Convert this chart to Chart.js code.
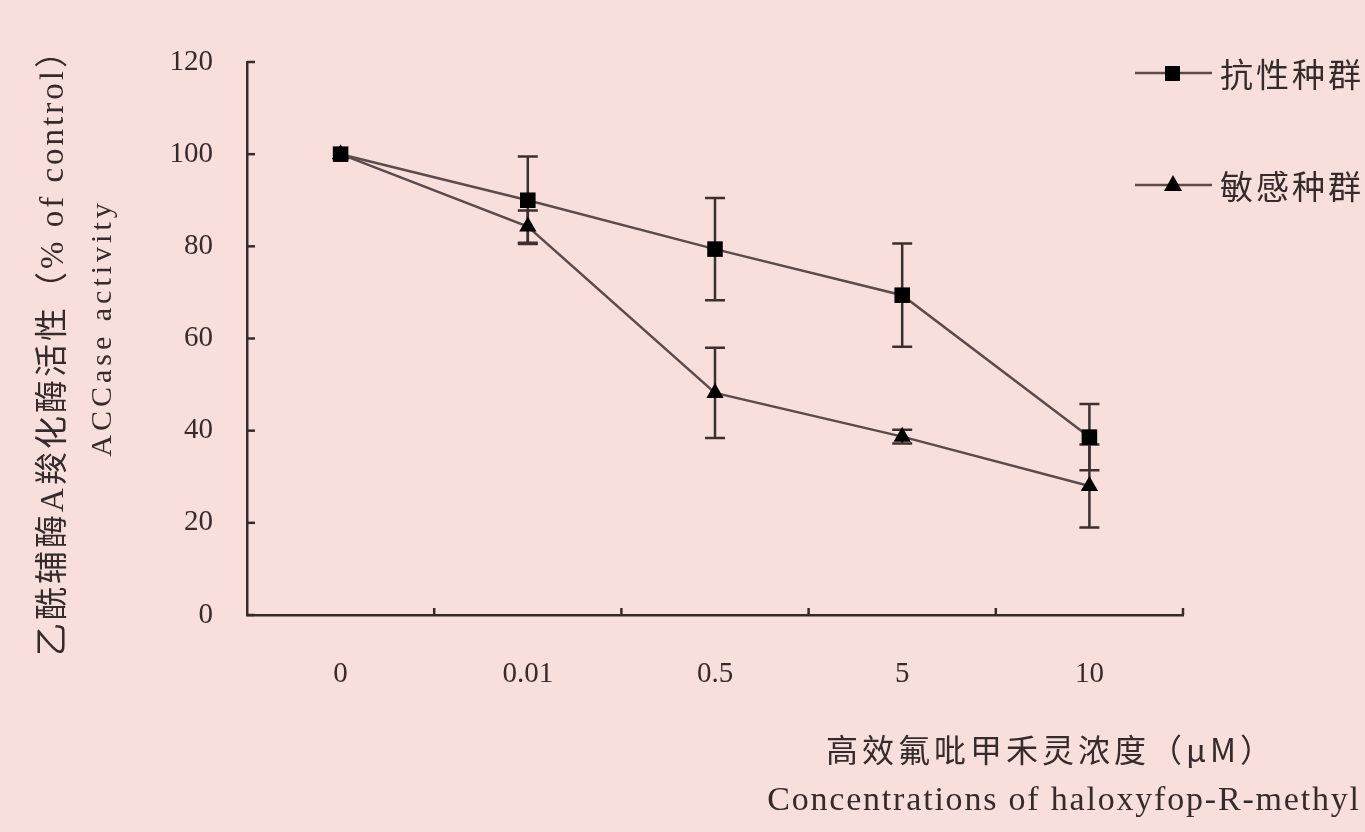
<!DOCTYPE html>
<html>
<head>
<meta charset="utf-8">
<script src="https://cdn.jsdelivr.net/npm/chart.js@4.4.1/dist/chart.umd.min.js"></script>
<style>
html,body{margin:0;padding:0;background:#f9dfdb;overflow:hidden;}
canvas{display:block;}
</style>
</head>
<body>
<canvas id="c" width="1365" height="832"></canvas>
<script>
// ---- data ----
const concentrations = ['0', '0.01', '0.5', '5', '10'];
const seriesNames = ['抗性种群', '敏感种群'];
const resistantMean = [100, 90, 79.4, 69.4, 38.6];
const resistantErr  = [0, 9.5, 11.1, 11.2, 7.2];
const sensitiveMean = [100, 84.3, 48.2, 38.7, 28];
const sensitiveErr  = [0, 3.5, 9.8, 1.5, 9];
const yMin = 0, yMax = 120, yStep = 20;
const yTitleLines = ['乙酰辅酶A羧化酶活性（% of control）', 'ACCase activity'];
const xTitleLines = ['高效氟吡甲禾灵浓度（μM）', 'Concentrations of haloxyfop-R-methyl'];

const BG = '#f9dfdb';
const INK = '#342c2c';
const LINE = '#5a4c4c';
const SERIF = '"Liberation Serif", "Times New Roman", serif';
const CJK = '"Noto Sans CJK SC", "Liberation Serif", sans-serif';
const MIXED = '"Liberation Serif", "Noto Sans CJK SC", serif';

const errors = [resistantErr, sensitiveErr];

const bgPlugin = {
  id: 'bg',
  beforeDraw(chart) {
    const ctx = chart.ctx;
    ctx.save();
    ctx.fillStyle = BG;
    ctx.fillRect(0, 0, chart.width, chart.height);
    ctx.restore();
  }
};

function spaced(ctx, px) {
  if ('letterSpacing' in ctx) ctx.letterSpacing = px + 'px';
}

const decorPlugin = {
  id: 'decor',
  beforeDatasetsDraw(chart) {
    const ctx = chart.ctx;
    const xs = chart.scales.x, ys = chart.scales.y;
    const area = chart.chartArea;
    ctx.save();
    ctx.strokeStyle = INK;
    ctx.lineWidth = 2.5;
    // inward ticks on y axis
    ys.ticks.forEach(t => {
      const py = ys.getPixelForValue(t.value);
      ctx.beginPath();
      ctx.moveTo(area.left, py);
      ctx.lineTo(area.left + 8, py);
      ctx.stroke();
    });
    // inward ticks on x axis at category boundaries
    const n = concentrations.length;
    for (let i = 0; i < n; i++) {
      const a = xs.getPixelForValue(i);
      const b = i < n - 1 ? xs.getPixelForValue(i + 1) : a + (a - xs.getPixelForValue(i - 1));
      const px = (a + b) / 2;
      ctx.beginPath();
      ctx.moveTo(px, area.bottom);
      ctx.lineTo(px, area.bottom - 7);
      ctx.stroke();
    }
    // error bars
    ctx.lineWidth = 2.5;
    ctx.strokeStyle = '#3a3030';
    chart.data.datasets.forEach((ds, di) => {
      ds.data.forEach((v, i) => {
        const e = errors[di][i];
        if (!e) return;
        const px = xs.getPixelForValue(i);
        const top = ys.getPixelForValue(v + e);
        const bot = ys.getPixelForValue(v - e);
        ctx.beginPath();
        ctx.moveTo(px, top); ctx.lineTo(px, bot);
        ctx.moveTo(px - 10, top); ctx.lineTo(px + 10, top);
        ctx.moveTo(px - 10, bot); ctx.lineTo(px + 10, bot);
        ctx.stroke();
      });
    });
    ctx.restore();
  },
  afterDraw(chart) {
    const ctx = chart.ctx;
    ctx.save();
    ctx.fillStyle = INK;
    ctx.textAlign = 'center';
    ctx.textBaseline = 'middle';
    // y title (rotated)
    ctx.save();
    ctx.translate(54, 344);
    ctx.rotate(-Math.PI / 2);
    ctx.font = '33px ' + MIXED;
    spaced(ctx, 3);
    ctx.fillText(yTitleLines[0], 0, 0);
    ctx.restore();
    ctx.save();
    ctx.translate(103, 328);
    ctx.rotate(-Math.PI / 2);
    ctx.font = '30px ' + SERIF;
    spaced(ctx, 4);
    ctx.fillText(yTitleLines[1], 0, 0);
    ctx.restore();
    // x title
    ctx.save();
    ctx.font = '32px ' + CJK;
    spaced(ctx, 4);
    ctx.fillText(xTitleLines[0], 1051, 750);
    ctx.font = '34px ' + SERIF;
    spaced(ctx, 1.8);
    ctx.fillText(xTitleLines[1], 1064, 801);
    ctx.restore();
    // legend
    const legendY = [73, 185];
    chart.data.datasets.forEach((ds, di) => {
      const y = legendY[di];
      ctx.strokeStyle = LINE;
      ctx.lineWidth = 2.5;
      ctx.beginPath();
      ctx.moveTo(1135, y); ctx.lineTo(1212, y);
      ctx.stroke();
      ctx.fillStyle = '#000';
      if (ds.pointStyle === 'rect') {
        ctx.fillRect(1165, y - 7, 15, 15);
      } else {
        ctx.beginPath();
        ctx.moveTo(1173, y - 10);
        ctx.lineTo(1182, y + 6);
        ctx.lineTo(1164, y + 6);
        ctx.closePath();
        ctx.fill();
      }
      ctx.save();
      ctx.fillStyle = INK;
      ctx.textAlign = 'left';
      ctx.font = '33px ' + CJK;
      spaced(ctx, 3);
      ctx.fillText(ds.label, 1220, y + 1);
      ctx.restore();
    });
    ctx.restore();
  }
};

new Chart(document.getElementById('c'), {
  type: 'line',
  data: {
    labels: concentrations,
    datasets: [
      {
        label: seriesNames[0],
        data: resistantMean,
        borderColor: LINE,
        borderWidth: 2.5,
        pointStyle: 'rect',
        pointRadius: 11,
        pointBackgroundColor: '#000',
        pointBorderColor: '#000',
        pointBorderWidth: 0,
        tension: 0
      },
      {
        label: seriesNames[1],
        data: sensitiveMean,
        borderColor: LINE,
        borderWidth: 2.5,
        pointStyle: 'triangle',
        pointRadius: 10,
        pointBackgroundColor: '#000',
        pointBorderColor: '#000',
        pointBorderWidth: 0,
        tension: 0
      }
    ]
  },
  options: {
    responsive: false,
    animation: false,
    devicePixelRatio: 1,
    layout: { padding: { top: 62, right: 182, left: 0, bottom: 0 } },
    plugins: { legend: { display: false }, tooltip: { enabled: false } },
    scales: {
      x: {
        type: 'category',
        offset: true,
        grid: { display: false, drawTicks: false },
        border: { display: true, color: INK, width: 2.5 },
        ticks: { color: INK, font: { family: SERIF, size: 29 }, padding: 42, maxRotation: 0 },
        afterFit(scale) { scale.height = 217; }
      },
      y: {
        min: yMin, max: yMax,
        grid: { display: false, drawTicks: false },
        border: { display: true, color: INK, width: 2.5 },
        ticks: { stepSize: yStep, color: INK, font: { family: SERIF, size: 29 }, padding: 34 },
        afterFit(scale) { scale.width = 247; }
      }
    }
  },
  plugins: [bgPlugin, decorPlugin]
});
</script>
</body>
</html>
